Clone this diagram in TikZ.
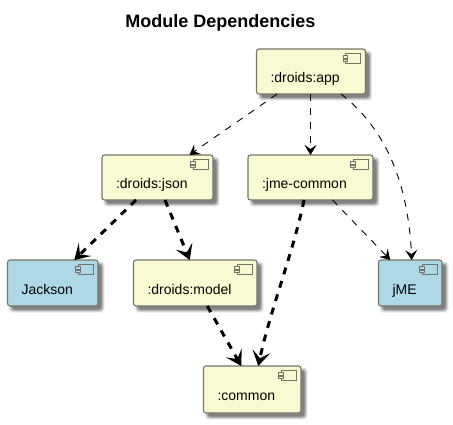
\documentclass[tikz,border=0pt]{standalone}
\usepackage{fontspec}
\setmainfont{Liberation Sans}
\usetikzlibrary{arrows.meta,calc}
\definecolor{compyellow}{HTML}{FAFAD2}
\definecolor{compblue}{HTML}{ADD8E6}
\definecolor{compline}{HTML}{74746A}
\tikzset{
  compbox/.style={draw=compline,line width=1.1pt,rounded corners=2.5pt,inner xsep=14pt,inner ysep=0pt,outer sep=0pt,align=left,font=\fontsize{14}{16}\selectfont,text=black},
  compicon/.style={draw=compline,line width=1pt},
  thinlink/.style={draw=black,line width=.9pt,dash pattern=on 7pt off 7pt,-{Stealth[length=10pt,width=12pt,inset=4pt]}},
  thicklink/.style={draw=black,line width=3pt,dash pattern=on 7pt off 7pt,-{Stealth[length=15pt,width=18pt,inset=7pt]}},
  titletext/.style={font=\bfseries\fontsize{18}{20}\selectfont,text=black}
}
\newcommand{\compnode}[7]{%
  \foreach \s/\o in {2.5/.08,1.5/.14,.5/.18,-.5/.22}{
    \fill[black,opacity=\o,rounded corners=3pt] ({#2+4-\s},{#3+4-\s}) rectangle ({#4+4+\s},{#5+4+\s});
  }
  \node[compbox,fill=#6,minimum width={(#4-#2)*1pt},minimum height={(#5-#3)*1pt},text width={(#4-#2-28)*1pt}] (#1) at ({(#2+#4)/2},{(#3+#5)/2}) {\smash{\raisebox{-11pt}{#7}}};
  \draw[compicon,fill=#6] ($(#1.north east)+(-20,4.7)$) rectangle ($(#1.north east)+(-4.6,14.3)$);
  \draw[compicon,fill=#6] ($(#1.north east)+(-22.3,6.8)$) rectangle ($(#1.north east)+(-17.7,9.2)$);
  \draw[compicon,fill=#6] ($(#1.north east)+(-22.3,10.2)$) rectangle ($(#1.north east)+(-17.7,12.6)$);
}
\begin{document}
\begin{tikzpicture}[x=1pt,y=-1pt]
\useasboundingbox (0,0) rectangle (453,424);
\node[titletext] (title) at (220.5,22.5) {Module Dependencies};
\compnode{app}{256.5}{49}{365.5}{94}{compyellow}{:droids:app}
\compnode{json}{102}{155}{213}{200}{compyellow}{:droids:json}
\compnode{jmecommon}{248}{155}{373}{200}{compyellow}{:jme-common}
\compnode{jackson}{7.5}{260}{98}{306}{compblue}{Jackson}
\compnode{model}{133.5}{260}{257}{306}{compyellow}{:droids:model}
\compnode{jme}{378.5}{260}{442}{306}{compblue}{jME}
\compnode{common}{203.5}{366}{301}{413}{compyellow}{:common}
\draw[thinlink] ($(app.south)+(-34,0)$) .. controls +(-28,20) and +(28,-20) .. ($(json.north)+(32,0)$);
\draw[thinlink] ($(app.south)+(-.5,0)$) -- ($(jmecommon.north)+(0,0)$);
\draw[thinlink] ($(app.south)+(30,0)$) .. controls +(40,31) and +(-4,-85) .. ($(jme.north)+(1.5,0)$);
\draw[thinlink] ($(jmecommon.south)+(22,0)$) -- ($(jme.north)+(-20,0)$);
\draw[thicklink] ($(json.south)+(-21.5,0)$) -- ($(jackson.north)+(21.5,0)$);
\draw[thicklink] ($(json.south)+(7.5,0)$) -- ($(model.north)+(-5.5,0)$);
\draw[thicklink] ($(jmecommon.south)+(-6.5,0)$) .. controls +(-10,50) and +(12,-56) .. ($(common.north)+(6,0)$);
\draw[thicklink] ($(model.south)+(12,0)$) -- ($(common.north)+(-11,0)$);
\end{tikzpicture}
\end{document}
